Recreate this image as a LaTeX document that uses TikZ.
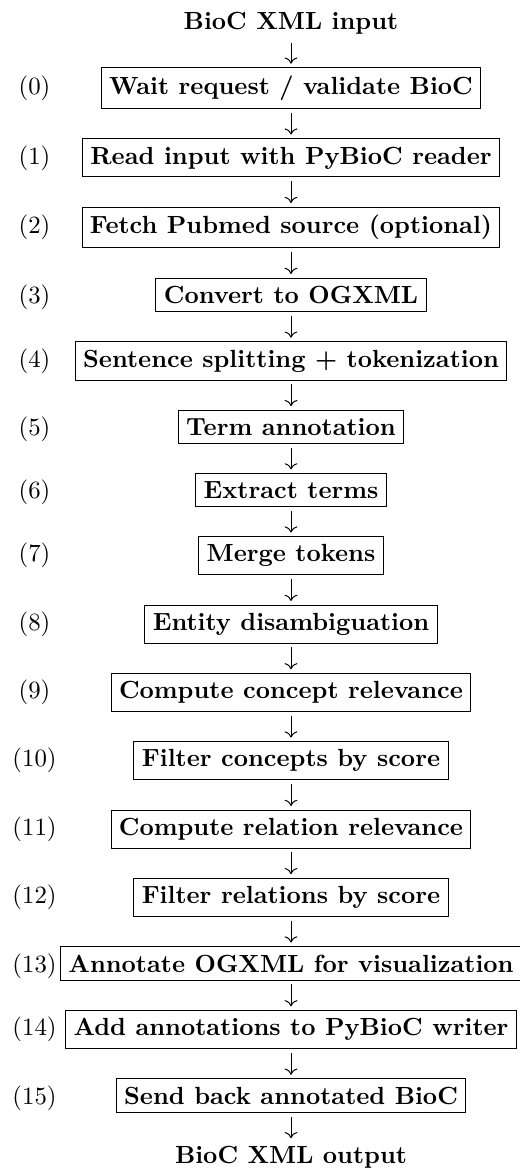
\documentclass[tikz,border=0pt]{standalone}
\usetikzlibrary{arrows.meta,positioning}
\begin{document}
\begin{tikzpicture}[x=0.403pt,y=-0.403pt,
  box/.style={draw,line width=0.4pt,inner sep=3.2pt,font=\bfseries},
  lab/.style={inner sep=0pt,anchor=base},
  term/.style={inner sep=0pt,font=\bfseries},
  arr/.style={-{Computer Modern Rightarrow},line width=0.4pt,shorten <=1.5pt,shorten >=1.5pt},
  node distance=11.8pt]
\useasboundingbox (0,0) rectangle (519,1169);
\coordinate (lx) at (34.5,0);
\node[term,anchor=base] (in) at (291,29.9) {BioC XML input};
\node[box,anchor=base] (b0) at (291,94.4) {Wait request / validate BioC};
\node[box,below=of b0] (b1) {Read input with PyBioC reader};
\node[box,below=of b1] (b2) {Fetch Pubmed source (optional)};
\node[box,below=of b2] (b3) {Convert to OGXML};
\node[box,below=of b3] (b4) {Sentence splitting + tokenization};
\node[box,below=of b4] (b5) {Term annotation};
\node[box,below=of b5] (b6) {Extract terms};
\node[box,below=of b6] (b7) {Merge tokens};
\node[box,below=of b7] (b8) {Entity disambiguation};
\node[box,below=of b8] (b9) {Compute concept relevance};
\node[box,below=of b9] (b10) {Filter concepts by score};
\node[box,below=of b10] (b11) {Compute relation relevance};
\node[box,below=of b11] (b12) {Filter relations by score};
\node[box,below=of b12] (b13) {Annotate OGXML for visualization};
\node[box,below=of b13] (b14) {Add annotations to PyBioC writer};
\node[box,below=of b14] (b15) {Send back annotated BioC};
\node[term,below=13.4pt of b15] (out) {BioC XML output};
\node[lab] (l0) at (lx |- b0.base) {(0)};
\node[lab] (l1) at (lx |- b1.base) {(1)};
\node[lab] (l2) at (lx |- b2.base) {(2)};
\node[lab] (l3) at (lx |- b3.base) {(3)};
\node[lab] (l4) at (lx |- b4.base) {(4)};
\node[lab] (l5) at (lx |- b5.base) {(5)};
\node[lab] (l6) at (lx |- b6.base) {(6)};
\node[lab] (l7) at (lx |- b7.base) {(7)};
\node[lab] (l8) at (lx |- b8.base) {(8)};
\node[lab] (l9) at (lx |- b9.base) {(9)};
\node[lab] (l10) at (lx |- b10.base) {(10)};
\node[lab] (l11) at (lx |- b11.base) {(11)};
\node[lab] (l12) at (lx |- b12.base) {(12)};
\node[lab] (l13) at (lx |- b13.base) {(13)};
\node[lab] (l14) at (lx |- b14.base) {(14)};
\node[lab] (l15) at (lx |- b15.base) {(15)};
\draw[arr,shorten <=3.1pt] (in.south) -- (b0.north);
\foreach \a/\b in {0/1,1/2,2/3,3/4,4/5,5/6,6/7,7/8,8/9,9/10,10/11,11/12,12/13,13/14,14/15}
  \draw[arr] (b\a.south) -- (b\b.north);
\draw[arr,shorten >=3.2pt] (b15.south) -- (out.north);
\end{tikzpicture}
\end{document}
